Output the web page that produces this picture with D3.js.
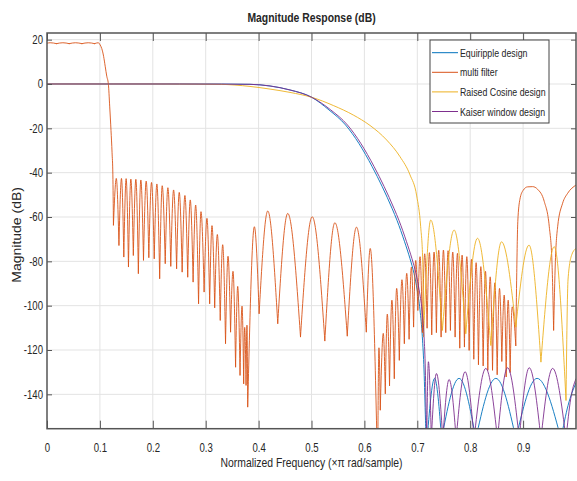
<!DOCTYPE html>
<html>
<head>
<meta charset="utf-8">
<script src="https://cdn.jsdelivr.net/npm/d3@7"></script>
<style>
  body { margin: 0; background: #fff; }
  text { font-family: "Liberation Sans", Arial, sans-serif; fill: #262626; }
</style>
</head>
<body>
<svg id="chart" width="577" height="481"></svg>
<script type="text/javascript">

// ---- data: [normalized frequency, magnitude dB] ----
var xTicks = [0, 0.1, 0.2, 0.3, 0.4, 0.5, 0.6, 0.7, 0.8, 0.9];
var yTicks = [20, 0, -20, -40, -60, -80, -100, -120, -140];
var seriesNames = ["Equiripple design", "multi filter", "Raised Cosine design", "Kaiser window design"];
var seriesColors = ["#0072BD", "#D95319", "#EDB120", "#7E2F8E"];

var equiripple = [
  [0,0],[0.25,0],[0.33,-0.05],[0.3837,-0.15],[0.4216,-0.9],[0.4594,-2.7],[0.5004,-6.0],[0.533,-11.7],
  [0.5644,-18.5],[0.5896,-26.8],[0.6147,-37.3],[0.6337,-46.3],[0.6526,-56.3],[0.6616,-61.5],
  [0.676,-71.2],[0.6862,-78.8],[0.6938,-85.5],[0.6998,-92.9],[0.7051,-101.9],[0.7095,-114],
  [0.7127,-129],[0.7155,-151.7],[0.7162,-157],[0.718,-162],
  [0.7327,-132.8],[0.7459,-160],[0.779,-132.8],[0.8106,-160],[0.8485,-132.8],[0.8864,-160],
  [0.9264,-132.8],[0.9716,-160],[0.985,-145],[1.0,-134.8]
];

var multiFilter = [
  [0,18.4],[0.006,18.6],[0.018,18.2],[0.03,18.6],[0.042,18.2],[0.054,18.6],[0.066,18.2],[0.078,18.6],
  [0.09,18.2],[0.097,18.6],[0.1005,17.6],[0.1035,16],[0.107,12.5],[0.11,8],[0.113,3.5],[0.116,0],
  [0.1185,-10],[0.121,-21],[0.123,-31],[0.1245,-41],[0.1256,-63.6],
  [0.131,-42.6],[0.136,-72.7],[0.1408,-42.6],[0.1452,-77.9],[0.1496,-42.7],[0.154,-82.4],
  [0.1585,-42.9],[0.1632,-77.2],[0.168,-43.0],[0.1727,-85.4],[0.1774,-43.3],[0.1824,-79.4],
  [0.1875,-43.8],[0.1925,-78.2],[0.1976,-44.4],[0.2027,-78.7],[0.2077,-45.1],[0.213,-87.7],
  [0.2178,-45.9],[0.2235,-80.9],[0.2285,-46.8],[0.234,-82.1],[0.2393,-47.8],[0.245,-83.2],
  [0.25,-48.9],[0.2555,-84.7],[0.2607,-50.3],[0.266,-87.0],[0.2708,-52.3],[0.2762,-89.2],
  [0.281,-54.6],[0.2865,-99.0],[0.2911,-57.6],[0.297,-93.7],[0.3024,-60.6],[0.3075,-99.0],
  [0.3119,-63.9],[0.317,-100.8],[0.322,-67.9],[0.3275,-106.5],[0.3321,-72.5],[0.3375,-117.0],
  [0.3422,-77.7],[0.347,-111.8],[0.3516,-84.5],[0.3565,-127.6],[0.3605,-91.3],[0.3649,-131.3],
  [0.3687,-100.2],[0.3718,-135.1],[0.3737,-109.8],[0.3763,-135.8],[0.378,-108.8],[0.3794,-145.6],
  [0.392,-64.4],[0.401,-103.5],[0.4173,-57.3],[0.4362,-108.0],[0.4551,-58.4],[0.4792,-114.0],
  [0.5013,-59.9],[0.5252,-115.8],[0.5442,-62.6],[0.5676,-113.6],[0.585,-64.6],[0.6036,-111.8],
  [0.611,-74.2],[0.625,-175],
  [0.6275,-119],[0.63,-147],[0.6357,-112.5],[0.6395,-139.6],[0.6433,-103.8],[0.6475,-136],
  [0.652,-97.5],[0.6565,-132.8],[0.661,-92.2],[0.666,-124.5],[0.671,-88.3],[0.6755,-117.0],
  [0.68,-85.4],[0.6845,-115],[0.6888,-82.6],[0.693,-109.5],[0.697,-79.6],[0.701,-102],
  [0.7052,-77.9],[0.7096,-112],[0.714,-76.6],[0.7185,-110],[0.7229,-76.1],[0.7273,-113],
  [0.7317,-75.8],[0.7361,-112],[0.7405,-75.0],[0.745,-114],[0.7494,-74.9],[0.7538,-112],
  [0.7582,-75.2],[0.7626,-111],[0.767,-75.8],[0.7715,-114],[0.7759,-76.4],[0.7803,-119],
  [0.7847,-77.2],[0.7891,-118.5],[0.7936,-77.9],[0.798,-120],[0.8024,-79.1],[0.8068,-124],
  [0.8112,-80.6],[0.8156,-126.5],[0.8201,-82.4],[0.8245,-127],[0.8289,-84.5],[0.8333,-129],
  [0.8378,-87.0],[0.8422,-129],[0.8466,-89.7],[0.851,-131],[0.8554,-92.2],[0.8598,-125],
  [0.8643,-95.2],[0.868,-132],[0.8718,-97.5],[0.8755,-130],[0.8794,-100.5],[0.8862,-118],
  [0.888,-85],[0.89,-62],[0.894,-52],[0.9,-48],[0.9085,-46.4],[0.918,-46.3],[0.9274,-47.5],
  [0.94,-53],[0.9495,-64.4],[0.9545,-80],[0.9577,-111],
  [0.961,-80],[0.9653,-64.4],[0.9747,-53.8],[0.9842,-49.3],[1.0,-45.6]
];

var raisedCosine = [
  [0,0],[0.2,0],[0.28,-0.05],[0.327,-0.15],[0.3837,-1.1],[0.4216,-2.3],[0.4594,-3.8],[0.5004,-6.0],
  [0.5412,-9.7],[0.579,-14.0],[0.6106,-18.7],[0.6422,-25.3],[0.6673,-32.8],[0.6862,-41.0],
  [0.6989,-50.5],[0.7064,-64.4],[0.7102,-79.4],[0.7118,-114],
  [0.7254,-61.4],[0.7475,-111],[0.7696,-65.9],[0.7917,-112.5],[0.8138,-69.6],[0.839,-117.8],
  [0.8592,-71.2],[0.8862,-109.5],[0.9112,-72.7],[0.9337,-125.3],[0.9589,-73.4],[0.9811,-142.6],
  [0.985,-88],[0.992,-77],[1.0,-74.2]
];

var kaiser = [
  [0,0],[0.25,0],[0.33,-0.05],[0.3837,-0.15],[0.4216,-0.9],[0.4594,-2.7],[0.5004,-6.0],[0.5364,-11.7],
  [0.568,-18.5],[0.5932,-26.8],[0.6184,-37.3],[0.6374,-46.3],[0.6563,-56.3],[0.6653,-61.5],
  [0.6797,-71.2],[0.6899,-78.8],[0.6975,-85.5],[0.7035,-92.9],[0.7088,-101.9],[0.7128,-114],
  [0.7152,-129],[0.7170,-151.7],[0.7178,-160],
  [0.721,-125.3],[0.7265,-160],[0.7362,-130.6],[0.7482,-160],[0.7601,-133.3],[0.7735,-160],
  [0.7904,-129.8],[0.8074,-160],[0.8295,-128.3],[0.8516,-160],[0.8706,-128.0],[0.8927,-160],
  [0.9116,-128.0],[0.9337,-160],[0.9558,-128.3],[0.9811,-160],[0.99,-142],[1.0,-133]
];

var allSeries = [equiripple, multiFilter, raisedCosine, kaiser];

// ---- layout ----
var plotL = 47, plotR = 576, plotT = 33, plotB = 428.7;
var svg = d3.select("#chart");

var x = d3.scaleLinear().domain([0, 1]).range([plotL, plotR]);
var y = d3.scaleLinear().domain([-155.5, 23]).range([plotB, plotT]);

// grid
svg.append("g").selectAll("line").data(xTicks.slice(1)).enter().append("line")
  .attr("x1", function(d){ return x(d); }).attr("x2", function(d){ return x(d); })
  .attr("y1", plotT).attr("y2", plotB)
  .attr("stroke", "#e3e3e3").attr("stroke-width", 1);
svg.append("g").selectAll("line").data(yTicks).enter().append("line")
  .attr("x1", plotL).attr("x2", plotR)
  .attr("y1", function(d){ return y(d); }).attr("y2", function(d){ return y(d); })
  .attr("stroke", "#e3e3e3").attr("stroke-width", 1);

// curves, split at every null so the lobes keep a sharp bottom
svg.append("clipPath").attr("id", "plotclip").append("rect")
  .attr("x", plotL).attr("y", plotT).attr("width", plotR - plotL).attr("height", plotB - plotT);

function lobes(pts) {
  var out = [], cur = [pts[0]];
  for (var i = 1; i < pts.length; i++) {
    cur.push(pts[i]);
    if (i < pts.length - 1 && pts[i][1] < pts[i-1][1] && pts[i][1] < pts[i+1][1]) {
      out.push(cur);
      cur = [pts[i]];
    }
  }
  out.push(cur);
  return out;
}
var line = d3.line().x(function(d){ return x(d[0]); }).y(function(d){ return y(d[1]); })
  .curve(d3.curveMonotoneX);

var curves = svg.append("g").attr("clip-path", "url(#plotclip)");
allSeries.forEach(function(s, i) {
  curves.append("path")
    .attr("d", lobes(s).map(line).join(""))
    .attr("fill", "none")
    .attr("stroke", seriesColors[i])
    .attr("stroke-width", 0.9)
    .attr("stroke-linecap", "round");
});

// axes (ticks point inward, box on all sides)
var fmt = function(d){ return String(d); };
var gx = svg.append("g").attr("transform", "translate(0," + plotB + ")")
  .call(d3.axisBottom(x).tickValues(xTicks).tickSizeInner(-8).tickSizeOuter(0).tickPadding(15).tickFormat(fmt));
var gxt = svg.append("g").attr("transform", "translate(0," + plotT + ")")
  .call(d3.axisTop(x).tickValues(xTicks).tickSizeInner(-8).tickSizeOuter(0).tickFormat(""));
var gy = svg.append("g").attr("transform", "translate(" + plotL + ",0)")
  .call(d3.axisLeft(y).tickValues(yTicks).tickSizeInner(-5).tickSizeOuter(0).tickPadding(4).tickFormat(fmt));
var gyr = svg.append("g").attr("transform", "translate(" + plotR + ",0)")
  .call(d3.axisRight(y).tickValues(yTicks).tickSizeInner(-5).tickSizeOuter(0).tickFormat(""));

[gx, gxt, gy, gyr].forEach(function(g) {
  g.select(".domain").remove();
  g.selectAll(".tick line").attr("stroke", "#555").attr("stroke-width", 1);
  g.selectAll("text").attr("font-size", 12).attr("fill", "#262626")
    .attr("font-family", "'Liberation Sans', Arial, sans-serif");
});
gx.selectAll(".tick text").attr("transform", "scale(0.8,1)");
gy.selectAll(".tick text").attr("x", 0).attr("transform", "translate(-4,0) scale(0.8,1)");

svg.append("rect")
  .attr("x", plotL).attr("y", plotT).attr("width", plotR - plotL).attr("height", plotB - plotT)
  .attr("fill", "none").attr("stroke", "#555").attr("stroke-width", 1.5);

// titles
svg.append("text").attr("transform", "translate(" + ((plotL + plotR) / 2) + ",22) scale(0.8,1)")
  .attr("text-anchor", "middle").attr("font-size", 13).attr("font-weight", "bold")
  .text("Magnitude Response (dB)");
svg.append("text").attr("transform", "translate(" + ((plotL + plotR) / 2) + ",467) scale(0.8,1)")
  .attr("text-anchor", "middle").attr("font-size", 13)
  .text("Normalized Frequency (\u00D7\u03C0 rad/sample)");
svg.append("text").attr("transform", "translate(21," + ((plotT + plotB) / 2 + 4) + ") rotate(-90) scale(1,0.85)")
  .attr("text-anchor", "middle").attr("font-size", 14)
  .text("Magnitude (dB)");

// legend
var leg = svg.append("g").attr("transform", "translate(430,40)");
leg.append("rect").attr("width", 119).attr("height", 83)
  .attr("fill", "#fff").attr("stroke", "#444").attr("stroke-width", 1);
var items = leg.selectAll("g.item").data(seriesNames).enter().append("g")
  .attr("class", "item")
  .attr("transform", function(d, i){ return "translate(0," + (12.7 + i * 19.6) + ")"; });
items.append("line").attr("x1", 2).attr("x2", 28)
  .attr("stroke", function(d, i){ return seriesColors[i]; }).attr("stroke-width", 1);
items.append("text").attr("transform", "translate(30,4) scale(0.8,1)")
  .attr("font-size", 11).text(function(d){ return d; });

</script>
</body>
</html>
